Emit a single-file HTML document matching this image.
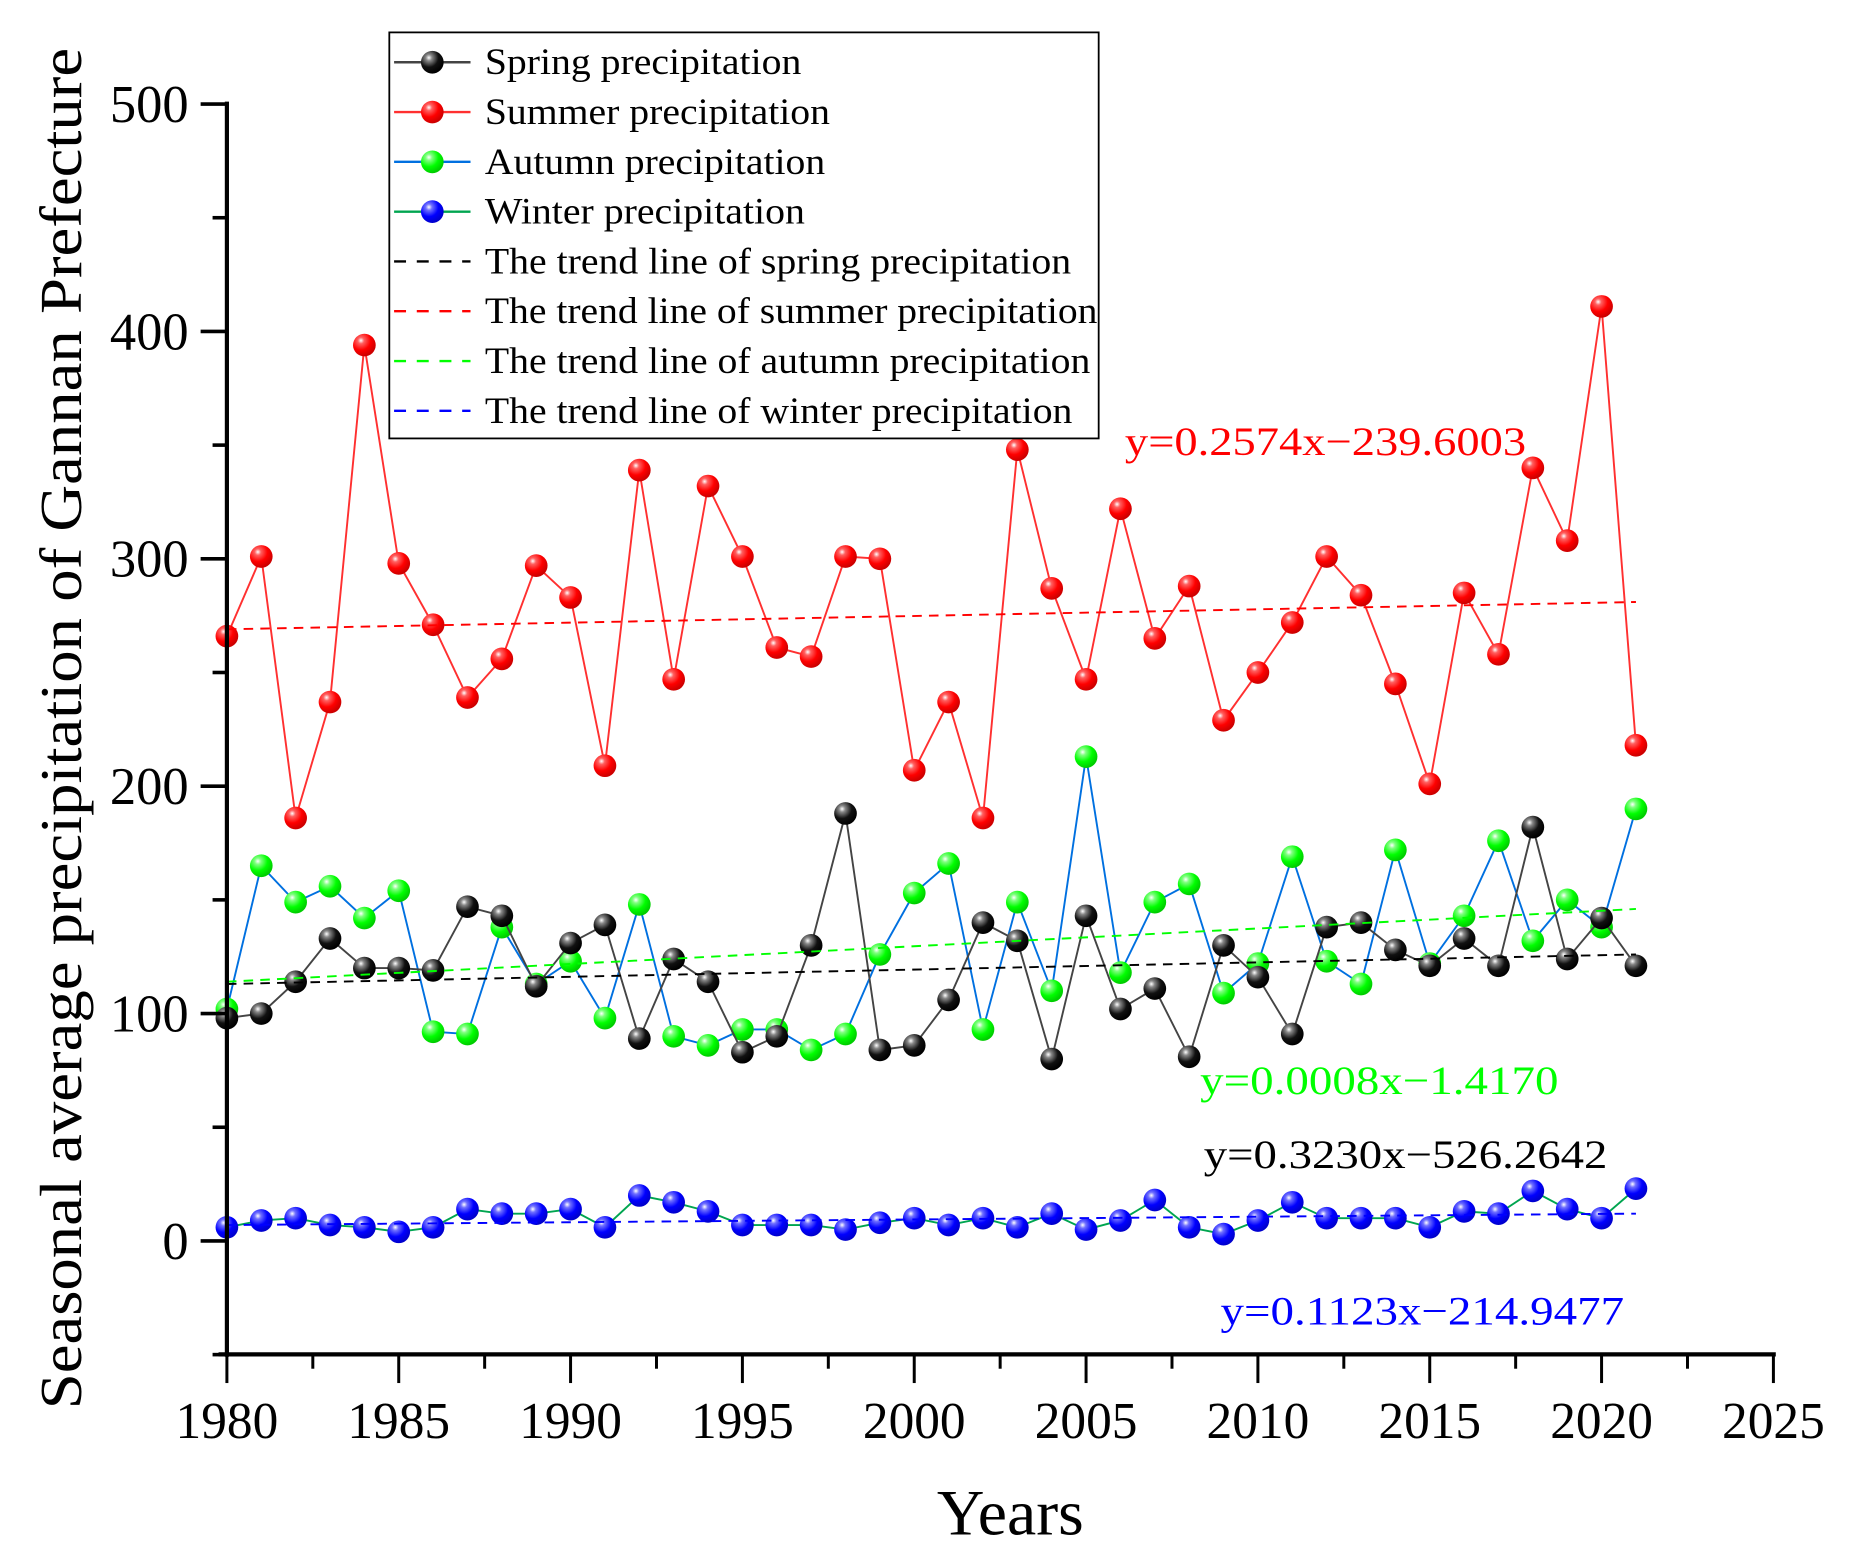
<!DOCTYPE html>
<html><head><meta charset="utf-8"><style>
html,body{margin:0;padding:0;background:#fff;}
svg{display:block;font-family:"Liberation Serif",serif;}
</style></head><body>
<svg id="chart" width="1857" height="1548" viewBox="0 0 1555 1296" xmlns="http://www.w3.org/2000/svg">
<defs>
<radialGradient id="gk" cx="0.35" cy="0.3" r="0.7"><stop offset="0" stop-color="#fff"/><stop offset="0.2" stop-color="#888"/><stop offset="0.6" stop-color="#111"/><stop offset="1" stop-color="#000"/></radialGradient>
<radialGradient id="gr" cx="0.35" cy="0.3" r="0.7"><stop offset="0" stop-color="#fff"/><stop offset="0.2" stop-color="#ff6060"/><stop offset="0.6" stop-color="#f00"/><stop offset="1" stop-color="#c00"/></radialGradient>
<radialGradient id="gg" cx="0.35" cy="0.3" r="0.7"><stop offset="0" stop-color="#fff"/><stop offset="0.2" stop-color="#80ff80"/><stop offset="0.6" stop-color="#0f0"/><stop offset="1" stop-color="#0c0"/></radialGradient>
<radialGradient id="gb" cx="0.35" cy="0.3" r="0.7"><stop offset="0" stop-color="#fff"/><stop offset="0.2" stop-color="#7070ff"/><stop offset="0.6" stop-color="#00f"/><stop offset="1" stop-color="#00c"/></radialGradient>
</defs>
<g id="plot"></g>
<g id="axes"></g>
<text transform="translate(68,610) rotate(-90)" text-anchor="middle" font-size="50" textLength="1140" lengthAdjust="spacingAndGlyphs">Seasonal average precipitation of Gannan Prefecture</text>
<text x="846" y="1285" text-anchor="middle" font-size="54" textLength="123" lengthAdjust="spacingAndGlyphs">Years</text>
<text x="942" y="381" font-size="34" fill="#f00" textLength="336" lengthAdjust="spacingAndGlyphs">y=0.2574x−239.6003</text>
<text x="1005" y="916" font-size="34" fill="#0f0" textLength="300" lengthAdjust="spacingAndGlyphs">y=0.0008x−1.4170</text>
<text x="1008" y="978" font-size="34" fill="#000" textLength="338" lengthAdjust="spacingAndGlyphs">y=0.3230x−526.2642</text>
<text x="1022" y="1109" font-size="34" fill="#00f" textLength="338" lengthAdjust="spacingAndGlyphs">y=0.1123x−214.9477</text>
<g id="legend"></g>
</svg>
<script>
const years = [];
for (let y = 1980; y <= 2021; y++) years.push(y);
const spring = [98,100,114,133,120,120,119,147,143,112,131,139,89,124,114,83,90,130,188,84,86,106,140,132,80,143,102,111,81,130,116,91,138,140,128,121,133,121,182,124,142,121];
const summer = [266,301,186,237,394,298,271,239,256,297,283,209,339,247,332,301,261,257,301,300,207,237,186,348,287,247,322,265,288,229,250,272,301,284,245,201,285,258,340,308,411,218];
const autumn = [102,165,149,156,142,154,92,91,138,113,123,98,148,90,86,93,93,84,91,126,153,166,93,149,110,213,118,149,157,109,122,169,123,113,172,122,143,176,132,150,138,190];
const winter = [6,9,10,7,6,4,6,14,12,12,14,6,20,17,13,7,7,7,5,8,10,7,10,6,12,5,9,18,6,3,9,17,10,10,10,6,13,12,22,14,10,23];
const trendSpring = [113,126];
const trendSummer = [269,281];
const trendAutumn = [114,146];
const trendWinter = [7,12];
const yTicks = [0,100,200,300,400,500];
const xTicks = [1980,1985,1990,1995,2000,2005,2010,2015,2020,2025];

const NS = "http://www.w3.org/2000/svg";
const X = v => 190 + (v - 1980) * (1295 / 45);
const Y = v => 1039 - v * 1.904;
function mk(tag, attrs, parent) {
  const e = document.createElementNS(NS, tag);
  for (const k in attrs) e.setAttribute(k, attrs[k]);
  parent.appendChild(e);
  return e;
}
const plot = document.getElementById('plot');
const axes = document.getElementById('axes');

function trend(arr, color, name) {
  const l = mk('line', {x1: X(1980), y1: Y(arr[0]), x2: X(2021), y2: Y(arr[1]), stroke: color, 'stroke-width': 1.6, 'stroke-dasharray': '8 6'}, plot);
  
  
}
function series(vals, lineColor, grad, name) {
  const g = mk('g', {}, plot);
  
  
  const pts = vals.map((v, i) => X(years[i]) + ',' + Y(v)).join(' ');
  mk('polyline', {points: pts, fill: 'none', stroke: lineColor, 'stroke-width': 1.6}, g);
  vals.forEach((v, i) => {
    const c = mk('circle', {cx: X(years[i]), cy: Y(v), r: 9.5, fill: 'url(#' + grad + ')'}, g);
    
    
  });
}
series(winter, '#00a550', 'gb', 'winter-series');
series(autumn, '#0070e0', 'gg', 'autumn-series');
series(spring, '#444', 'gk', 'spring-series');
series(summer, '#ff3030', 'gr', 'summer-series');
trend(trendSpring, '#000', 'spring-trend');
trend(trendSummer, '#f00', 'summer-trend');
trend(trendAutumn, '#0f0', 'autumn-trend');
trend(trendWinter, '#00f', 'winter-trend');

mk('line', {x1: 190, y1: 85, x2: 190, y2: 1136, stroke: '#000', 'stroke-width': 3.5}, axes);
mk('line', {x1: 183, y1: 1134, x2: 1487, y2: 1134, stroke: '#000', 'stroke-width': 3.5}, axes);
for (let v = -50; v <= 500; v += 50) {
  const major = yTicks.includes(v);
  mk('line', {x1: major ? 168 : 178, y1: Y(v), x2: 190, y2: Y(v), stroke: '#000', 'stroke-width': 3}, axes);
}
yTicks.forEach(v => {
  const t = mk('text', {x: 158, y: Y(v) + 15, 'text-anchor': 'end', 'font-size': 44}, axes);
  t.textContent = v;
  
  
});
for (let v = 1980; v <= 2025; v += 2.5) {
  const major = v % 5 === 0;
  mk('line', {x1: X(v), y1: 1134, x2: X(v), y2: major ? 1158 : 1146, stroke: '#000', 'stroke-width': 2.5}, axes);
}
xTicks.forEach(v => {
  const t = mk('text', {x: X(v), y: 1204, 'text-anchor': 'middle', 'font-size': 43}, axes);
  t.textContent = v;
  
  
});

const lg = document.getElementById('legend');
mk('rect', {x: 326, y: 27, width: 594, height: 340, fill: '#fff', stroke: '#000', 'stroke-width': 1.5}, lg);
const legendItems = [
  ['Spring precipitation', '#444', 'gk', false, 265],
  ['Summer precipitation', '#ff3030', 'gr', false, 289],
  ['Autumn precipitation', '#0070e0', 'gg', false, 285],
  ['Winter precipitation', '#00a550', 'gb', false, 268],
  ['The trend line of spring precipitation', '#000', null, true, 491],
  ['The trend line of summer precipitation', '#f00', null, true, 513],
  ['The trend line of autumn precipitation', '#0f0', null, true, 507],
  ['The trend line of winter precipitation', '#00f', null, true, 492]
];
legendItems.forEach((it, i) => {
  const cy = 52 + i * 41.7;
  const g = mk('g', {}, lg);
  
  
  mk('line', {x1: 330, y1: cy, x2: 394, y2: cy, stroke: it[1], 'stroke-width': 2, 'stroke-dasharray': it[3] ? '10 9' : 'none'}, g);
  if (it[2]) mk('circle', {cx: 362, cy: cy, r: 9.5, fill: 'url(#' + it[2] + ')'}, g);
  const t = mk('text', {x: 406, y: cy + 10, 'font-size': 31, textLength: it[4], lengthAdjust: 'spacingAndGlyphs'}, g);
  t.textContent = it[0];
});
</script>
</body></html>
